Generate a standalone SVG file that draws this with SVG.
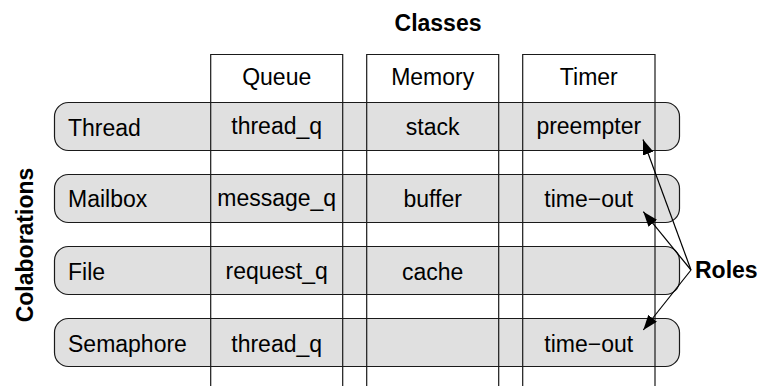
<svg xmlns="http://www.w3.org/2000/svg" width="758" height="386" viewBox="0 0 758 386">
<style>
text{font-family:"Liberation Sans",Arial,sans-serif;font-size:23px;fill:#000}
.b{font-weight:bold}
.c{text-anchor:middle}
.row{fill:#e0e0e0;stroke:#1a1a1a;stroke-width:1.2}
.col{fill:none;stroke:#1a1a1a;stroke-width:1.2}
.arr{stroke:#000;stroke-width:1.2;fill:none;marker-end:url(#ah)}
</style>
<defs>
<marker id="ah" markerUnits="userSpaceOnUse" markerWidth="15" markerHeight="11" refX="15" refY="5.5" orient="auto">
<path d="M0,0 L15,5.5 L0,11 z" fill="#000"/>
</marker>
</defs>
<rect width="758" height="386" fill="#fff"/>
<text class="b c" x="438" y="31">Classes</text>
<text class="b c" transform="translate(33,245) rotate(-90)">Colaborations</text>
<g id="row-thread">
<rect class="row" x="54.5" y="102.5" width="625" height="48" rx="14"/>
<text x="68" y="136">Thread</text>
<text class="c" x="276.7" y="133.5">thread_q</text>
<text class="c" x="432.7" y="134.5">stack</text>
<text class="c" x="588.8" y="133.5">preempter</text>
</g>
<g id="row-mailbox">
<rect class="row" x="54.5" y="174.5" width="625" height="48" rx="14"/>
<text x="68" y="207">Mailbox</text>
<text class="c" x="276.7" y="205.5">message_q</text>
<text class="c" x="432.7" y="206.5">buffer</text>
<text class="c" x="588.8" y="206.5">time−out</text>
</g>
<g id="row-file">
<rect class="row" x="54.5" y="246.5" width="625" height="48" rx="14"/>
<text x="68" y="280">File</text>
<text class="c" x="276.7" y="278.5">request_q</text>
<text class="c" x="432.7" y="279.5">cache</text>
</g>
<g id="row-semaphore">
<rect class="row" x="54.5" y="318.5" width="625" height="48" rx="14"/>
<text x="68" y="352">Semaphore</text>
<text class="c" x="276.7" y="352">thread_q</text>
<text class="c" x="588.8" y="352">time−out</text>
</g>
<g id="col-queue">
<path class="col" d="M210.7,390 V54.5 H342.7 V390"/>
<text class="c" x="276.7" y="85">Queue</text>
</g>
<g id="col-memory">
<path class="col" d="M366.7,390 V54.5 H498.7 V390"/>
<text class="c" x="432.7" y="85">Memory</text>
</g>
<g id="col-timer">
<path class="col" d="M522.7,390 V54.5 H655 V390"/>
<text class="c" x="588.8" y="85">Timer</text>
</g>
<g id="connectors">
<line class="arr" x1="691" y1="270" x2="643" y2="139.5"/>
<line class="arr" x1="691" y1="270" x2="643.3" y2="211.7"/>
<line class="arr" x1="691" y1="270" x2="643.3" y2="330"/>
</g>
<g id="roles">
<text class="b" x="695" y="278">Roles</text>
</g>
</svg>
